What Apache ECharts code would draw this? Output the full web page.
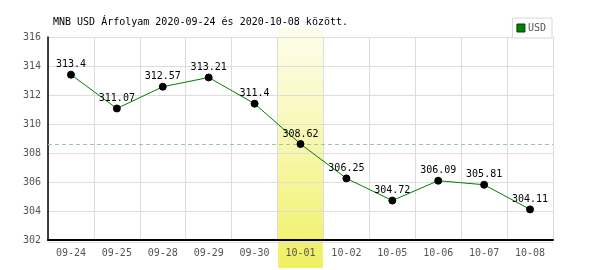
<!DOCTYPE html>
<html><head><meta charset="utf-8">
<script src="https://cdn.jsdelivr.net/npm/echarts@6/dist/echarts.min.js"></script>
<style>html,body{margin:0;padding:0;background:#fff}#c{width:600px;height:270px}</style>
</head><body><div id="c"></div>
<script>
const categories = ['09-24','09-25','09-28','09-29','09-30','10-01','10-02','10-05','10-06','10-07','10-08'];
const usdValues = [313.4,311.07,312.57,313.21,311.4,308.62,306.25,304.72,306.09,305.81,304.11];
const yTicks = {min: 302, max: 316, interval: 2};
const highlightCategory = '10-01';
const referenceValue = 308.62;
const titleText = 'MNB USD Árfolyam 2020-09-24 és 2020-10-08 között.';
const seriesName = 'USD';

const mono = '"DejaVu Sans Mono", "Liberation Mono", monospace';
const chart = echarts.init(document.getElementById('c'));
chart.setOption({
  animation: false,
  backgroundColor: '#fff',
  title: {text: titleText, left: 48, top: 12, textStyle: {fontFamily: mono, fontSize: 10, fontWeight: 'normal', color: '#000'}},
  legend: {
    data: [{name: seriesName, itemStyle: {color: '#008000', borderColor: '#004000', borderWidth: 1}}],
    right: 48, top: 18, itemWidth: 8, itemHeight: 8, itemGap: 4,
    padding: [5, 6, 5, 4], borderColor: '#d8d8d8', borderWidth: 1, backgroundColor: '#fff',
    icon: 'rect',
    textStyle: {fontFamily: mono, fontSize: 10, color: '#555', padding: [0,0,0,-2]}
  },
  grid: {left: 48, right: 47, top: 37, bottom: 30, containLabel: false},
  xAxis: {
    type: 'category', data: categories, boundaryGap: true,
    axisLine: {lineStyle: {color: '#000', width: 2}},
    axisTick: {show: false},
    axisLabel: {fontFamily: mono, fontSize: 10, color: '#555', margin: 8},
    splitLine: {show: true, lineStyle: {color: '#ddd', width: 1}}
  },
  yAxis: {
    type: 'value', min: yTicks.min, max: yTicks.max, interval: yTicks.interval,
    axisLine: {show: true, lineStyle: {color: '#000', width: 1.5}},
    axisTick: {show: false},
    axisLabel: {fontFamily: mono, fontSize: 10, color: '#555', margin: 7},
    splitLine: {lineStyle: {color: '#ddd', width: 1}}
  },
  series: [{
    name: seriesName, type: 'line', data: usdValues,
    itemStyle: {color: '#000', borderColor: '#000'},
    lineStyle: {color: '#008000', width: 1},
    symbol: 'circle', symbolSize: 7,
    label: {show: true, position: 'top', distance: 1, fontFamily: mono, fontSize: 10, color: '#000', formatter: p => String(p.value)},
    emphasis: {disabled: true},
    markLine: {
      silent: true, symbol: 'none', label: {show: false},
      lineStyle: {color: '#9cc89c', type: [4, 3], width: 1},
      data: [{yAxis: referenceValue}]
    },
    z: 5
  }]
});

function drawGraphics() {
  const c = chart.convertToPixel({xAxisIndex: 0}, highlightCategory);
  const c0 = chart.convertToPixel({xAxisIndex: 0}, categories[0]);
  const c1 = chart.convertToPixel({xAxisIndex: 0}, categories[1]);
  const bw = c1 - c0;
  const yBottom = chart.convertToPixel({yAxisIndex: 0}, yTicks.min);
  const yTop = chart.convertToPixel({yAxisIndex: 0}, yTicks.max);
  const xl = c0 - bw/2;
  const xr = chart.convertToPixel({xAxisIndex: 0}, categories[categories.length-1]) + bw/2;
  chart.setOption({graphic: [
    {type: 'rect', z: -1, silent: true,
     shape: {x: c - bw/2 + 0.5, y: yTop - 9, width: bw - 1, height: (yBottom - yTop) + 37},
     style: {fill: new echarts.graphic.LinearGradient(0, 0, 0, 1, [
       {offset: 0, color: '#fdfdec'}, {offset: 0.45, color: '#f8f8b4'}, {offset: 1, color: '#f0f062'}])}},
    {type: 'line', z: 1, silent: true,
     shape: {x1: xl, y1: yBottom + 2.5, x2: xr, y2: yBottom + 2.5},
     style: {stroke: '#ddd', lineWidth: 1}}
  ]});
}
drawGraphics();
</script></body></html>
